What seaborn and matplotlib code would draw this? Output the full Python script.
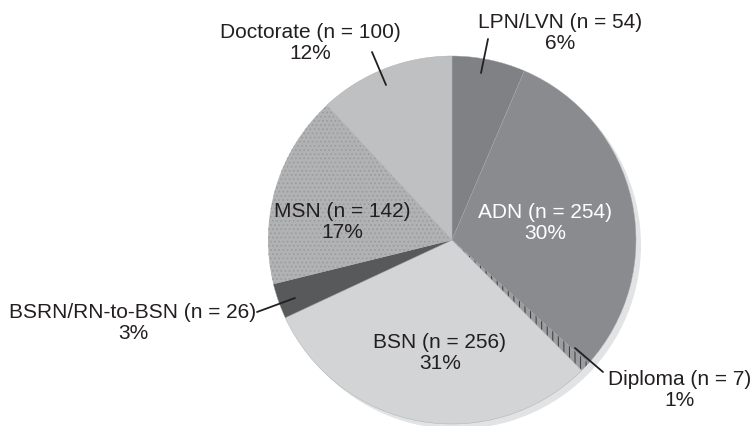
import matplotlib
matplotlib.use("Agg")
import matplotlib.pyplot as plt
import seaborn as sns

sns.set_theme(style="white")
plt.rcParams['font.family'] = ['Liberation Sans', 'DejaVu Sans']
plt.rcParams['hatch.linewidth'] = 0.7

# ---- data ----
categories = ["LPN/LVN", "ADN", "Diploma", "BSN", "BSRN/RN-to-BSN", "MSN", "Doctorate"]
counts = [54, 254, 7, 256, 26, 142, 100]
percents = ["6%", "30%", "1%", "31%", "3%", "17%", "12%"]

# ---- styles ----
colors = ["#808184", "#8a8b8e", "#9c9d9f", "#d3d4d6", "#58595b", "#b1b2b4", "#bfc0c2"]
hatches = [None, None, "|||", None, None, "....", None]
hatch_colors = [None, None, "#3a3a3c", None, None, "#9a9b9d", None]
text_colors = ["#231f20", "white", "#231f20", "#231f20", "#231f20", "#231f20", "#231f20"]

W, H = 753, 426
def px(x, y):
    return x, H - y

label_pos = [px(560, 33), px(545, 223), px(680, 390), px(440, 353),
             px(133, 323), px(342, 222), px(310, 43)]
leaders = {
    "LPN/LVN": [(488, 39), (481, 73)],
    "Doctorate": [(372, 52), (386, 85)],
    "BSRN/RN-to-BSN": [(257, 312), (295, 298)],
    "Diploma": [(575, 348), (603, 372)],
}

fig = plt.figure(figsize=(W / 100, H / 100), dpi=100)
ax = fig.add_axes([0, 0, 1, 1])

cx, cy = px(452, 240)
r = 184

# shadow
ax.pie([1], colors=["#e2e3e4"], center=(cx + 5, cy - 5), radius=r,
       wedgeprops=dict(linewidth=0), frame=True)

wedges, _ = ax.pie(counts, colors=colors, startangle=90, counterclock=False,
                   center=(cx, cy), radius=r,
                   wedgeprops=dict(linewidth=0.3, edgecolor="#a8a9ab"), frame=True)
for w, h, hc in zip(wedges, hatches, hatch_colors):
    if h:
        w.set_hatch(h)
        w.set_edgecolor(hc)
        w.set_linewidth(0)

ax.set_xlim(0, W)
ax.set_ylim(0, H)
ax.set_aspect("equal")
ax.axis("off")

for cat, n, p, pos, tc in zip(categories, counts, percents, label_pos, text_colors):
    ax.text(pos[0], pos[1], f"{cat} (n = {n})\n{p}", ha="center", va="center",
            multialignment="center", fontsize=15, color=tc, linespacing=1.1)

for cat, pts in leaders.items():
    (x1, y1), (x2, y2) = pts
    ax.plot([x1, x2], [H - y1, H - y2], color="#231f20", lw=1.3)

fig.savefig("out.png", dpi=100)
